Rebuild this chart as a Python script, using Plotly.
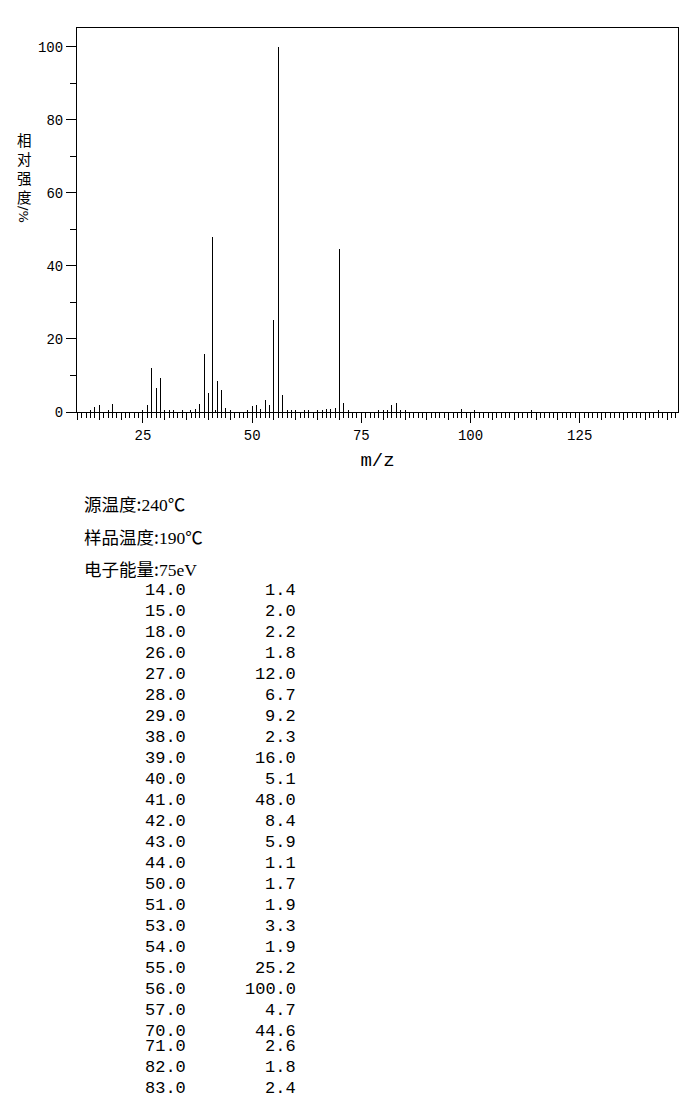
import plotly.graph_objects as go

# ---- data ----
# peaks listed in the table (m/z, relative intensity %)
table_mz = [14.0, 15.0, 18.0, 26.0, 27.0, 28.0, 29.0, 38.0, 39.0, 40.0, 41.0, 42.0,
            43.0, 44.0, 50.0, 51.0, 53.0, 54.0, 55.0, 56.0, 57.0, 70.0, 71.0, 82.0, 83.0]
table_int = [1.4, 2.0, 2.2, 1.8, 12.0, 6.7, 9.2, 2.3, 16.0, 5.1, 48.0, 8.4,
             5.9, 1.1, 1.7, 1.9, 3.3, 1.9, 25.2, 100.0, 4.7, 44.6, 2.6, 1.8, 2.4]
# weak peaks visible in the spectrum only (estimated)
weak_mz = [13, 17, 25, 30, 31, 32, 34, 36, 37, 41.5, 45, 49, 52, 58, 59, 60, 62, 63,
           65, 66, 67, 68, 69, 72, 79, 80, 81, 84, 85, 98, 101, 114, 143]
weak_int = [0.4, 0.6, 0.4, 0.4, 0.4, 0.4, 0.4, 0.3, 0.9, 0.6, 0.6, 0.6, 0.9, 0.5, 0.6, 0.4, 0.4, 0.4,
            0.4, 0.5, 0.7, 0.7, 1.0, 0.5, 0.4, 0.5, 0.4, 0.5, 0.3, 0.9, 0.3, 0.5, 0.4]

x_major_ticks = [25, 50, 75, 100, 125]
y_ticks = [0, 20, 40, 60, 80, 100]

cond_labels = ["源温度:", "样品温度:", "电子能量:"]
cond_values = ["240", "190", "75eV"]
cond_units = ["℃", "℃", ""]
y_title_chars = ["相", "对", "强", "度"]
y_title_tail = "/%"
x_title = "m/z"

# ---- layout geometry (window pixels) ----
WIN_W, WIN_H = 687, 1106
BODY = 8                      # default page margin around the plot div
FW, FH = WIN_W - 2 * BODY, WIN_H - 2 * BODY
L, R, T, B = 77, 678, 28, 412   # plot area in window pixels
PW, PH = R - L, B - T


def px2x(px):
    return (px - L) / PW


def py2y(py):
    return (B - py) / PH


all_mz = table_mz + weak_mz
all_int = table_int + weak_int

fig = go.Figure()
# very narrow bars: plotly expands them to exactly one visible pixel
fig.add_trace(go.Bar(
    x=all_mz, y=all_int, width=0.003,
    marker=dict(color="black", line=dict(width=0)),
    hoverinfo="x+y", showlegend=False,
))
# invisible helper trace for the secondary tick axis
fig.add_trace(go.Scatter(x=[x_major_ticks[0]], y=[0], xaxis="x2", mode="markers",
                         marker=dict(opacity=0), showlegend=False, hoverinfo="skip"))

tick_font = dict(family="Liberation Mono, DejaVu Sans Mono, monospace", size=14, color="black")
xr = [9.9, 147.5]

fig.update_layout(
    width=FW, height=FH,
    margin=dict(l=L - BODY, r=(FW + BODY) - R, t=T - BODY, b=(FH + BODY) - B),
    paper_bgcolor="white", plot_bgcolor="white",
    bargap=0,
    xaxis=dict(
        range=xr, showgrid=False, zeroline=False,
        showline=True, linecolor="black", linewidth=1, mirror=True,
        tickmode="array", tickvals=x_major_ticks, ticktext=[str(v) for v in x_major_ticks],
        ticks="outside", ticklen=10, tickwidth=1, tickcolor="black",
        tickfont=tick_font,
        minor=dict(dtick=1, tick0=0, ticks="outside", ticklen=5, tickwidth=1, tickcolor="black"),
        title=dict(text=x_title, font=dict(family="Liberation Mono, DejaVu Sans Mono, monospace",
                                            size=19, color="black"), standoff=9),
    ),
    xaxis2=dict(
        range=xr, overlaying="x", anchor="y", side="bottom",
        showgrid=False, zeroline=False, showline=False, showticklabels=False,
        tickmode="linear", tick0=0, dtick=5,
        ticks="outside", ticklen=7, tickwidth=1, tickcolor="black",
    ),
    yaxis=dict(
        range=[0, 105.1], showgrid=False, zeroline=False,
        showline=True, linecolor="black", linewidth=1, mirror=True,
        tickmode="array", tickvals=y_ticks, ticktext=[str(v) for v in y_ticks],
        ticks="outside", ticklen=10, tickwidth=1, tickcolor="black",
        tickfont=tick_font,
        minor=dict(dtick=10, tick0=0, ticks="outside", ticklen=6, tickwidth=1, tickcolor="black"),
    ),
)

ann = []
cjk = "Noto Sans CJK SC"
# vertical y-axis title (upright characters stacked)
ann.append(dict(text="<br>".join(y_title_chars), x=px2x(24), y=py2y(168),
                xref="paper", yref="paper", xanchor="center", yanchor="middle",
                showarrow=False, font=dict(family=cjk, size=14.5, color="black")))
ann.append(dict(text=y_title_tail, x=px2x(24), y=py2y(214), textangle=90,
                xref="paper", yref="paper", xanchor="center", yanchor="middle",
                showarrow=False, font=dict(family="DejaVu Sans", size=13, color="black")))

# experiment conditions
cond_y = [503, 536, 568]
for lab, val, unit, yy in zip(cond_labels, cond_values, cond_units, cond_y):
    txt = f"{lab}<span style='font-family:Liberation Serif'>{val}</span>{unit}"
    ann.append(dict(text=txt, x=px2x(82), y=py2y(yy), xref="paper", yref="paper",
                    xanchor="left", yanchor="middle", showarrow=False,
                    font=dict(family=cjk, size=17.5, color="black")))

# peak table
mono = dict(family="Liberation Mono, Courier New, monospace", size=17, color="black")
for i, (m, v) in enumerate(zip(table_mz, table_int)):
    yy = 590 + 21 * i if i < 22 else 1046 + 21 * (i - 22)
    ann.append(dict(text=f"{m:.1f}", x=px2x(188), y=py2y(yy), xref="paper", yref="paper",
                    xanchor="right", yanchor="middle", showarrow=False, font=mono))
    ann.append(dict(text=f"{v:.1f}", x=px2x(298), y=py2y(yy), xref="paper", yref="paper",
                    xanchor="right", yanchor="middle", showarrow=False, font=mono))

fig.update_layout(annotations=ann)
fig.write_html("out.html")
